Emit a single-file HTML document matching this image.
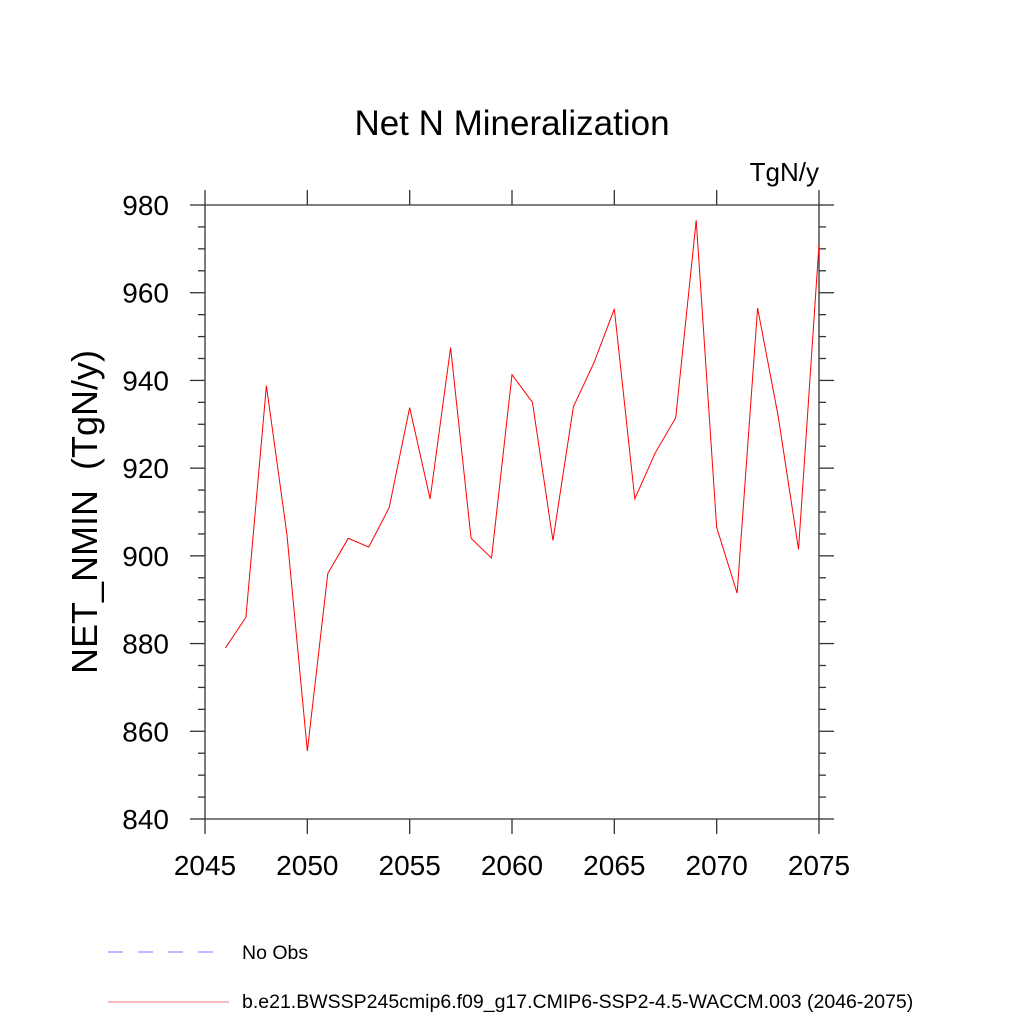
<!DOCTYPE html>
<html><head><meta charset="utf-8"><style>
html,body{margin:0;padding:0;background:#fff;}
svg{display:block;font-family:"Liberation Sans",sans-serif;}
</style></head><body>
<svg id="chart" width="1024" height="1024" viewBox="0 0 1024 1024">
<text x="512" y="135" font-size="35" text-anchor="middle">Net N Mineralization</text>
<text x="819" y="181" font-size="26" text-anchor="end">TgN/y</text>
<text transform="translate(97,512) rotate(-90)" font-size="36" text-anchor="middle" style="white-space:pre" xml:space="preserve">NET_NMIN  (TgN/y)</text>
<g id="axes"></g>
<polyline id="series" fill="none" stroke="#ff0000" stroke-width="1"/>
<g>
<line x1="108" y1="952" x2="215" y2="952" stroke="#7777ff" stroke-width="1" stroke-dasharray="15,15"/>
<text x="242" y="959" font-size="19.5">No Obs</text>
<line x1="108" y1="1002" x2="229" y2="1002" stroke="#ee7777" stroke-width="1"/>
<text x="242" y="1008" font-size="19.5">b.e21.BWSSP245cmip6.f09_g17.CMIP6-SSP2-4.5-WACCM.003 (2046-2075)</text>
</g>
</svg>
<script>
const years = [2046,2047,2048,2049,2050,2051,2052,2053,2054,2055,2056,2057,2058,2059,2060,2061,2062,2063,2064,2065,2066,2067,2068,2069,2070,2071,2072,2073,2074,2075];
const values = [879,886,938.8,905,855.5,896,904,902,911,933.8,913,947.5,904,899.5,941.3,935,903.5,934,944,956.3,913,923.5,931.5,976.5,906.5,891.5,956.5,932,901.5,971];
const xTicks = [2045,2050,2055,2060,2065,2070,2075];
const yTicks = [840,860,880,900,920,940,960,980];
const L=205,R=819,T=205,B=819, X0=2045,X1=2075,Y0=840,Y1=980;
function sx(v){return L+(v-X0)/(X1-X0)*(R-L);}
function sy(v){return B-(v-Y0)/(Y1-Y0)*(B-T);}
const NS="http://www.w3.org/2000/svg";
const g=document.getElementById('axes');
function ln(x1,y1,x2,y2,name,w){const e=document.createElementNS(NS,'line');e.setAttribute('x1',x1);e.setAttribute('y1',y1);e.setAttribute('x2',x2);e.setAttribute('y2',y2);e.setAttribute('stroke','#333');e.setAttribute('stroke-width',w||1.3);


g.appendChild(e);}
function tx(x,y,s,anchor,name){const e=document.createElementNS(NS,'text');e.setAttribute('x',x);e.setAttribute('y',y);e.setAttribute('font-size','28');e.setAttribute('text-anchor',anchor);e.textContent=s;


g.appendChild(e);}
ln(L,T,R,T,'frame-top');ln(L,B,R,B,'frame-bottom');ln(L,T,L,B,'frame-left');ln(R,T,R,B,'frame-right');
xTicks.forEach(v=>{const x=sx(v);ln(x,B,x,B+15,'x-tick');ln(x,T,x,T-15,'x-tick-top');tx(x,875,String(v),'middle','x-tick-label');});
for(let v=Y0;v<=Y1;v+=5){const y=sy(v);const major=(v%20===0);const len=major?15:7;ln(L-len,y,L,y,'y-tick');ln(R,y,R+len,y,'y-tick-right');}
yTicks.forEach(v=>{tx(169,sy(v)+10,String(v),'end','y-tick-label');});
document.getElementById('series').setAttribute('points',years.map((yr,i)=>sx(yr)+','+sy(values[i])).join(' '));
</script>
</body></html>
